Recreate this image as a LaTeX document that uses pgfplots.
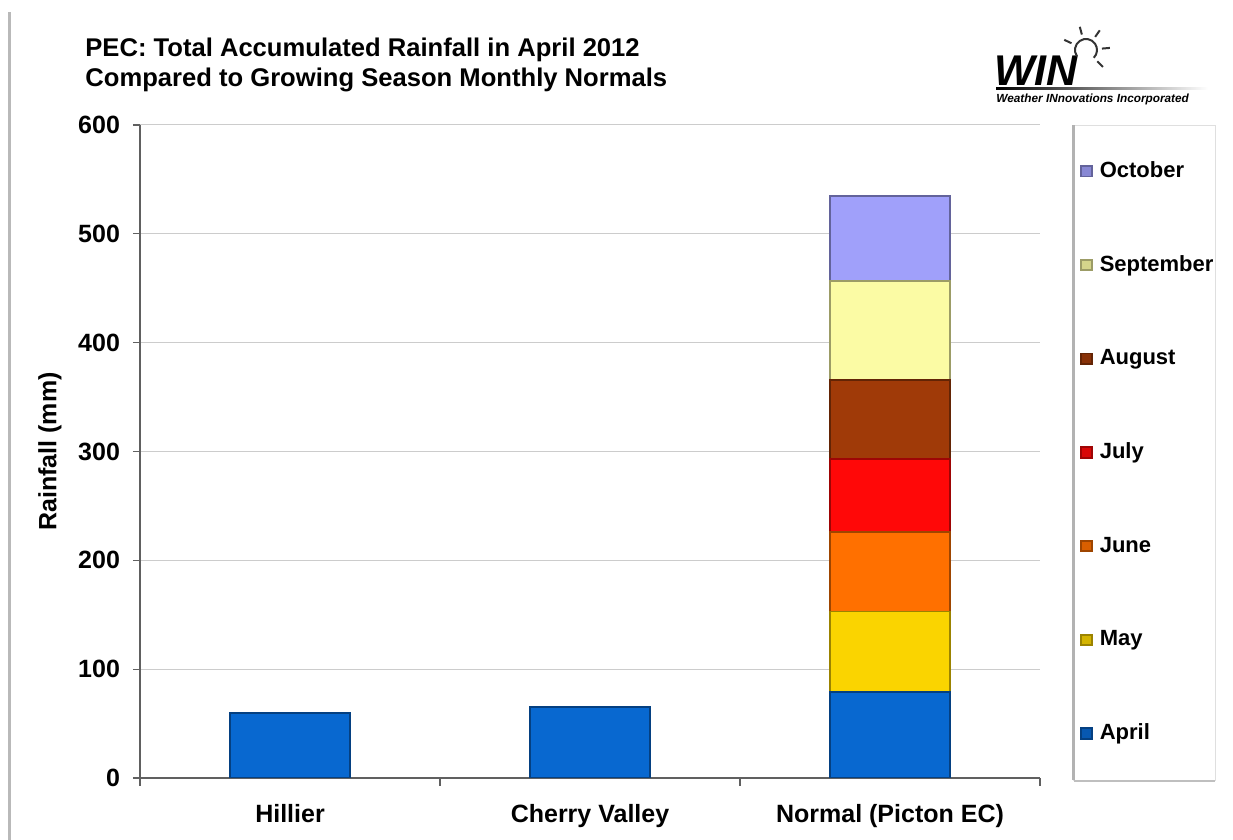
\documentclass[border=0pt]{standalone}
\usepackage{pgfplots}
\pgfplotsset{compat=1.18}
\usepackage{fontspec}
\setmainfont{Liberation Sans}
\definecolor{cApr}{RGB}{8,104,208}
\definecolor{cMay}{RGB}{250,212,0}
\definecolor{cJun}{RGB}{255,112,0}
\definecolor{cJul}{RGB}{255,8,8}
\definecolor{cAug}{RGB}{160,58,8}
\definecolor{cSep}{RGB}{251,251,164}
\definecolor{cOct}{RGB}{160,160,250}
\pgfplotsset{
  mybar/.style={fill=#1, draw=#1!62!black, line width=0.9pt,
    legend image code/.code={\fill[fill=#1!85!black] (0pt,-2.6pt) rectangle (5.2pt,2.6pt);}},
}
\begin{document}
\begin{tikzpicture}
\path[use as bounding box] (0,0) rectangle (616.5pt,420pt);
% outer frame shadow
\fill[gray!55] (4.2pt,0pt) rectangle (5.6pt,414pt);
% title
\node[anchor=base west, inner sep=0pt, font=\fontsize{12.8}{15}\selectfont\bfseries] at (42.5pt,391.5pt) {PEC: Total Accumulated Rainfall in April 2012};
\node[anchor=base west, inner sep=0pt, font=\fontsize{12.8}{15}\selectfont\bfseries] at (42.5pt,376.5pt) {Compared to Growing Season Monthly Normals};
% logo
\node[anchor=base west, inner sep=0pt, font=\fontsize{21.5}{24}\selectfont\bfseries\itshape] at (497pt,377pt) {WIN};
\shade[left color=black, right color=white] (498pt,375.4pt) rectangle (604pt,376.2pt);
\node[anchor=base west, inner sep=0pt, font=\fontsize{5.9}{7}\selectfont\bfseries\itshape] at (498pt,368.6pt) {Weather INnovations Incorporated};
\begin{scope}[shift={(543pt,395pt)}, line width=1pt, black!80]
  \draw (215:5.5pt) arc (215:-45:5.5pt);
  \foreach \a in {-45,5,55,105,155}{\draw (\a:8pt) -- (\a:12pt);}
\end{scope}
% legend box
\fill[white] (536.5pt,30pt) rectangle (607.5pt,357.5pt);
\draw[gray!25, line width=0.4pt] (536.5pt,30pt) rectangle (607.5pt,357.5pt);
\fill[gray!60] (536.2pt,30pt) rectangle (537.4pt,357.5pt);
\fill[gray!50] (537pt,28.8pt) rectangle (607.5pt,30.2pt);
\begin{axis}[
  at={(70pt,31pt)}, anchor=south west,
  scale only axis, width=450pt, height=326.5pt,
  xmin=-0.5, xmax=2.5, ymin=0, ymax=600,
  ybar stacked, bar width=0.4,
  axis x line*=bottom, axis y line*=left,
  axis line style={gray!75!black, line width=1.1pt},
  ytick={0,100,...,600},
  ymajorgrids, grid style={gray!40, line width=0.5pt},
  tick align=outside,
  major tick length=3.5pt,
  xtick={0,1,2},
  xticklabels={Hillier,Cherry Valley,Normal (Picton EC)},
  x tick style={draw=none},
  minor xtick={-0.5,0.5,1.5,2.5},
  minor x tick style={draw=gray!75!black, line width=0.6pt},
  minor tick length=4pt,
  y tick style={draw=gray!75!black, line width=0.6pt},
  /pgf/number format/assume math mode=true,
  ticklabel style={font=\fontsize{12.5}{15}\selectfont\bfseries},
  xticklabel style={yshift=-6pt},
  yticklabel style={xshift=-3pt},
  ylabel={Rainfall (mm)},
  ylabel style={at={(axis description cs:-0.1,0.5)}, anchor=center, font=\fontsize{12.5}{15}\selectfont\bfseries},
  reverse legend,
  legend cell align=left,
  legend style={at={(1.0444,0.9449)}, anchor=north west, draw=none, fill=none,
    inner sep=0pt, row sep=36.85pt,
    nodes={text height=8pt, text depth=2pt, inner sep=0pt, font=\fontsize{11}{13}\selectfont\bfseries},
    /tikz/every odd column/.append style={column sep=3.6pt}},
]
\addplot[mybar=cApr] coordinates {(2,79) (0,60) (1,65)};
\addlegendentry{April}
\addplot[mybar=cMay] coordinates {(2,74)};
\addlegendentry{May}
\addplot[mybar=cJun] coordinates {(2,73)};
\addlegendentry{June}
\addplot[mybar=cJul] coordinates {(2,67)};
\addlegendentry{July}
\addplot[mybar=cAug] coordinates {(2,73)};
\addlegendentry{August}
\addplot[mybar=cSep] coordinates {(2,91)};
\addlegendentry{September}
\addplot[mybar=cOct] coordinates {(2,78)};
\addlegendentry{October}
\end{axis}
\end{tikzpicture}
\end{document}
